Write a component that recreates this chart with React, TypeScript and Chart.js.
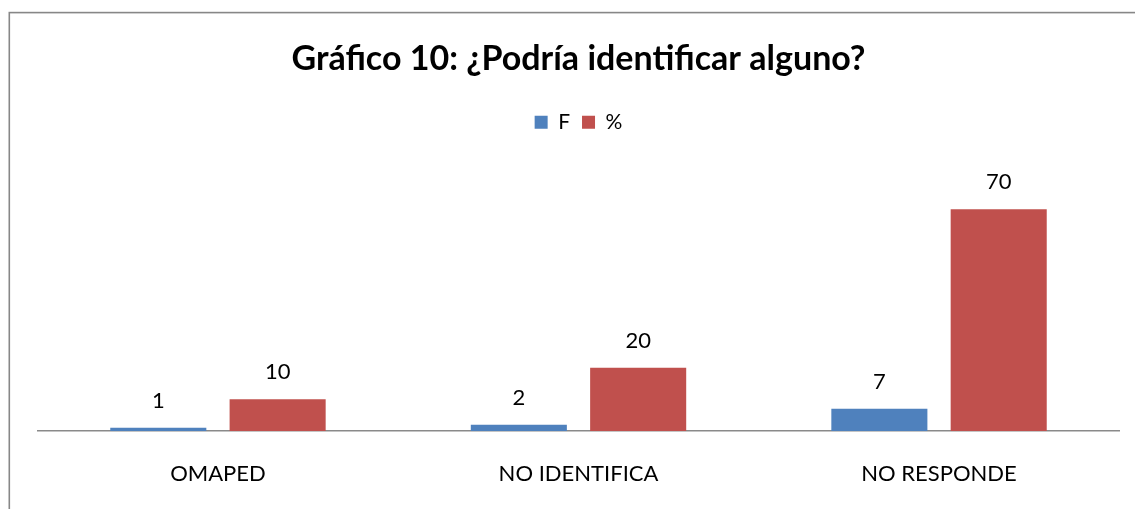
import React, { useEffect, useRef } from "react";
import { Chart, registerables } from "chart.js";

Chart.register(...registerables);

const categories = ["OMAPED", "NO IDENTIFICA", "NO RESPONDE"];
const fValues = [1, 2, 7];
const pctValues = [10, 20, 70];
const seriesNames = ["F", "%"];
const chartTitle = "Gráfico 10: ¿Podría identificar alguno?";
const yMax = 91;

const FONT = "Lato, 'Open Sans', sans-serif";

const frame = {
  id: "frame",
  beforeDraw(chart: any) {
    const ctx = chart.ctx;
    ctx.save();
    ctx.fillStyle = "#ffffff";
    ctx.fillRect(0, 0, chart.width, chart.height);
    ctx.strokeStyle = "#878787";
    ctx.lineWidth = 1.6;
    ctx.strokeRect(9.3, 12.6, 3000, 3000);
    ctx.restore();
  },
};

const valueLabels = {
  id: "valueLabels",
  afterDatasetsDraw(chart: any) {
    const ctx = chart.ctx;
    ctx.save();
    ctx.font = `22px ${FONT}`;
    ctx.fillStyle = "#000000";
    ctx.textAlign = "center";
    ctx.textBaseline = "middle";
    chart.data.datasets.forEach((ds: any, di: number) => {
      const meta = chart.getDatasetMeta(di);
      meta.data.forEach((bar: any, i: number) => {
        ctx.fillText(String(ds.data[i]), bar.x, bar.y - 27);
      });
    });
    ctx.restore();
  },
};

export default function App() {
  const ref = useRef<HTMLCanvasElement>(null);
  useEffect(() => {
    if (!ref.current) return;
    const chart = new Chart(ref.current, {
      type: "bar",
      data: {
        labels: categories,
        datasets: [
          {
            label: seriesNames[0],
            data: fValues,
            backgroundColor: "#4F81BD",
            categoryPercentage: 0.662,
            barPercentage: 0.805,
          },
          {
            label: seriesNames[1],
            data: pctValues,
            backgroundColor: "#C0504D",
            categoryPercentage: 0.662,
            barPercentage: 0.805,
          },
        ],
      },
      options: {
        animation: false,
        responsive: false,
        devicePixelRatio: 1,
        layout: { padding: { left: 37.7, right: 15.7, top: 0, bottom: 0 } },
        plugins: {
          title: {
            display: true,
            text: chartTitle,
            color: "#000000",
            font: { family: FONT, size: 34, weight: "bold" },
            padding: { top: 39, bottom: 20 },
          },
          legend: {
            display: true,
            position: "top",
            labels: {
              boxWidth: 13,
              boxHeight: 13,
              padding: 12,
              color: "#000000",
              font: { family: FONT, size: 21 },
            },
          },
          tooltip: { enabled: false },
        },
        scales: {
          x: {
            grid: { display: false, drawTicks: false },
            border: { display: true, color: "#8a8a8a", width: 1.5 },
            ticks: {
              color: "#000000",
              padding: 30,
              maxRotation: 0,
              font: { family: FONT, size: 22 },
            },
            afterFit(scale: any) {
              scale.height = 78;
            },
          },
          y: {
            display: false,
            min: 0,
            max: yMax,
          },
        },
      },
      plugins: [frame, valueLabels],
    });
    return () => chart.destroy();
  }, []);
  return (
    <div style={{ position: "fixed", left: 0, top: 0, width: 1135, height: 509 }}>
      <canvas ref={ref} width={1135} height={509} style={{ width: 1135, height: 509 }} />
    </div>
  );
}
